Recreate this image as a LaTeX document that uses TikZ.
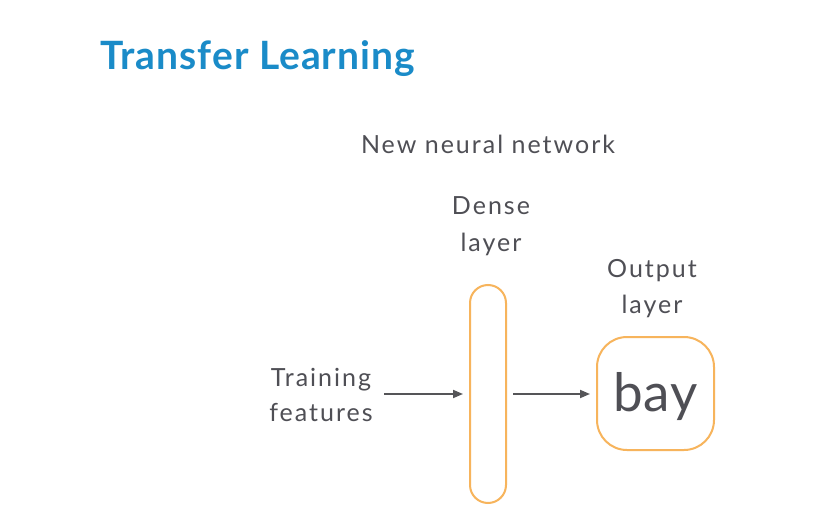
\documentclass[tikz,border=0pt]{standalone}
\usepackage{fontspec}
\setmainfont{Lato}
\newfontfamily\bodyfont[LetterSpace=8]{Lato}
\newfontfamily\headfont[LetterSpace=2.5]{Lato}
\newfontfamily\bigfont[LetterSpace=2]{Lato}
\usetikzlibrary{arrows.meta}
\definecolor{titleblue}{HTML}{1A8BC8}
\definecolor{textgray}{HTML}{4F4F55}
\definecolor{layerorange}{HTML}{F7B45C}
\definecolor{arrowgray}{HTML}{555558}
\begin{document}
\begin{tikzpicture}[x=1pt,y=-1pt,
  lbl/.style={anchor=base,inner sep=0pt,text=textgray,font=\bodyfont\fontsize{25}{30}\selectfont},
  layerbox/.style={draw=layerorange,line width=2pt,fill=white,inner sep=0pt},
  flow/.style={draw=arrowgray,line width=1.8pt,-{Triangle[length=10pt,width=8pt]}}]
  \useasboundingbox[fill=white] (0,0) rectangle (836,527);

  % title
  \node[anchor=base west,inner sep=0pt,text=titleblue,
        font=\headfont\fontsize{39}{45}\selectfont\bfseries] (title) at (100,70) {Transfer Learning};

  % caption
  \node[lbl] (caption) at (488,153) {New neural network};

  % dense layer and its label
  \node[layerbox,rounded corners=18pt,minimum width=36pt,minimum height=218pt] (dense) at (488,394) {};
  \node[lbl] (denseA) at (491,214) {Dense};
  \node[lbl] (denseB) at (491,251) {layer};

  % output layer and its label
  \node[layerbox,rounded corners=30pt,minimum width=117pt,minimum height=113pt] (output) at (655.5,393.5) {};
  \node[anchor=base,inner sep=0pt,text=textgray,font=\bigfont\fontsize{53}{60}\selectfont] (bay) at (655.5,411) {bay};
  \node[lbl] (outA) at (652,277) {Output};
  \node[lbl] (outB) at (652,313) {layer};

  % input label
  \node[lbl] (trainA) at (321,386) {Training};
  \node[lbl] (trainB) at (321,421) {features};

  % connectors
  \draw[flow,shorten >=6pt] (384,394) coordinate (in) -- (dense.west);
  \draw[flow,shorten <=6pt,shorten >=6pt] (dense.east) -- (output.west |- dense.east);
\end{tikzpicture}
\end{document}
